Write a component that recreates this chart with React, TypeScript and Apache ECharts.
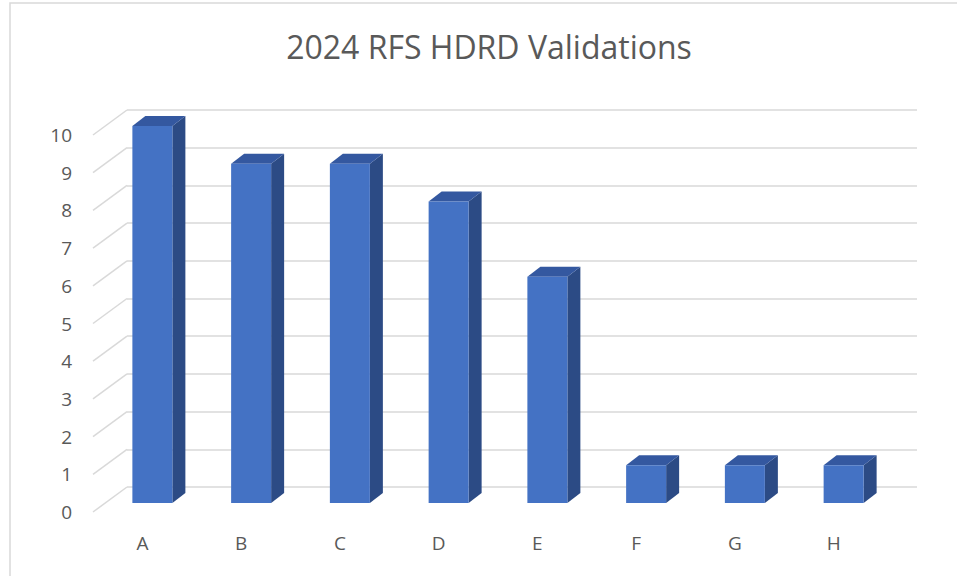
import React, { useEffect, useRef } from "react";
import * as echarts from "echarts";

const titleText = "2024 RFS HDRD Validations";
const categories = ["A", "B", "C", "D", "E", "F", "G", "H"];
const values = [10, 9, 9, 8, 6, 1, 1, 1];
const yTicks = [0, 1, 2, 3, 4, 5, 6, 7, 8, 9, 10];

const FONT = "Open Sans";
const TEXT_COLOR = "#595959";
const GRID_COLOR = "#d9d9d9";

export default function App() {
  const ref = useRef<HTMLDivElement>(null);

  useEffect(() => {
    if (!ref.current) return;
    const chart = echarts.init(ref.current, null, { renderer: "svg" });

    const depthX = 34;
    const depthY = 25;

    const option: any = {
      animation: false,
      backgroundColor: "#ffffff",
      textStyle: { fontFamily: FONT },
      graphic: [
        {
          type: "rect",
          silent: true,
          shape: { x: 10, y: 3, width: 1000, height: 700 },
          style: { fill: "none", stroke: GRID_COLOR, lineWidth: 1.5 },
        },
        {
          type: "text",
          silent: true,
          x: 489,
          y: 46,
          style: {
            text: titleText,
            fill: TEXT_COLOR,
            font: `32px "${FONT}"`,
            textAlign: "center",
            textVerticalAlign: "middle",
          },
        },
      ],
      grid: [
        { left: 127, right: 40, top: 110, bottom: 89 },
        { left: 93, right: 74, top: 135, bottom: 64 },
      ],
      xAxis: [
        {
          gridIndex: 0,
          type: "category",
          data: categories,
          axisLine: { show: false },
          axisTick: { show: false },
          axisLabel: { show: false },
          splitLine: { show: false },
        },
        {
          gridIndex: 1,
          type: "category",
          data: categories,
          axisLine: { show: false },
          axisTick: { show: false },
          splitLine: { show: false },
          axisLabel: { color: TEXT_COLOR, fontSize: 19, margin: 21, fontFamily: FONT },
        },
      ],
      yAxis: [
        {
          gridIndex: 0,
          type: "value",
          min: 0,
          max: 10,
          interval: 1,
          axisLine: { show: false },
          axisTick: { show: false },
          axisLabel: { show: false },
          splitLine: { lineStyle: { color: GRID_COLOR, width: 1.5 } },
        },
        {
          gridIndex: 1,
          type: "value",
          min: 0,
          max: 10,
          interval: 1,
          axisLine: { show: false },
          axisTick: { show: false },
          splitLine: { show: false },
          axisLabel: { color: TEXT_COLOR, fontSize: 19, margin: 21, fontFamily: FONT },
        },
      ],
      series: [
        {
          type: "custom",
          xAxisIndex: 0,
          yAxisIndex: 0,
          silent: true,
          data: yTicks.map((v) => [0, v]),
          renderItem: (params: any, api: any) => {
            const p = api.coord([0, api.value(1)]);
            const bw = api.size([1, 0])[0];
            const left = p[0] - bw / 2;
            return {
              type: "line",
              shape: { x1: left - depthX, y1: p[1] + depthY, x2: left, y2: p[1] },
              style: { stroke: GRID_COLOR, lineWidth: 1.5 },
            };
          },
        },
        {
          type: "custom",
          xAxisIndex: 1,
          yAxisIndex: 1,
          silent: true,
          data: values.map((v, i) => [i, v]),
          renderItem: (params: any, api: any) => {
            const i = api.value(0);
            const v = api.value(1);
            const base = api.coord([i, 0]);
            const top = api.coord([i, v]);
            const cx = base[0] + 10;
            const w = 40;
            const x0 = cx - w / 2;
            const x1 = cx + w / 2;
            const yb = base[1] - 9;
            const yt = top[1] - 9;
            const dx = 13;
            const dy = 10;
            return {
              type: "group",
              children: [
                {
                  type: "polygon",
                  shape: { points: [[x1, yb], [x1 + dx, yb - dy], [x1 + dx, yt - dy], [x1, yt]] },
                  style: { fill: "#2c4b85" },
                },
                {
                  type: "polygon",
                  shape: { points: [[x0, yt], [x1, yt], [x1 + dx, yt - dy], [x0 + dx, yt - dy]] },
                  style: { fill: "#3458a0" },
                },
                {
                  type: "rect",
                  shape: { x: x0, y: yt, width: w, height: yb - yt },
                  style: { fill: "#4472c4" },
                },
              ],
            };
          },
        },
      ],
    };

    chart.setOption(option);
    return () => chart.dispose();
  }, []);

  return (
    <div
      ref={ref}
      style={{ position: "fixed", left: 0, top: 0, width: 957, height: 576, background: "#fff" }}
    />
  );
}
